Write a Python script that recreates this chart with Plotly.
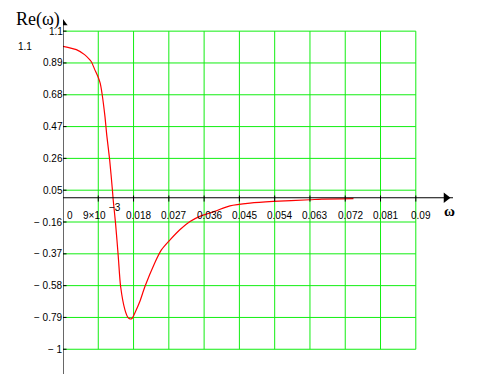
import plotly.graph_objects as go

# Curve values
omega = [0, 0.0034, 0.0055, 0.0068, 0.0073, 0.0081, 0.0089, 0.0095, 0.0100, 0.0107,
         0.0112, 0.0119, 0.0126, 0.0128, 0.0134, 0.0141, 0.0147, 0.0158, 0.0166, 0.0171,
         0.0176, 0.0183, 0.0196, 0.0209, 0.0234, 0.0251, 0.0273, 0.0298, 0.0324, 0.0349,
         0.0387, 0.0426, 0.0477, 0.0536, 0.0630, 0.0660, 0.0741]
re_omega = [1.0, 0.978, 0.945, 0.912, 0.895, 0.846, 0.80, 0.755, 0.68, 0.537,
            0.405, 0.251, 0.053, -0.013, -0.167, -0.388, -0.586, -0.74, -0.791, -0.80,
            -0.797, -0.762, -0.685, -0.586, -0.43, -0.344, -0.278, -0.211, -0.157, -0.123,
            -0.09, -0.053, -0.035, -0.024, -0.013, -0.009, -0.006]

x_ticks = [0, 0.009, 0.018, 0.027, 0.036, 0.045, 0.054, 0.063, 0.072, 0.081, 0.09]
x_labels = ["0", "9×10", "0.018", "0.027", "0.036", "0.045", "0.054",
            "0.063", "0.072", "0.081", "0.09"]
x_exponents = ["", "−3", "", "", "", "", "", "", "", "", ""]
y_ticks = [1.1, 0.89, 0.68, 0.47, 0.26, 0.05, -0.16, -0.37, -0.58, -0.79, -1]
y_labels = ["1.1", "0.89", "0.68", "0.47", "0.26", "0.05", "− 0.16", "− 0.37",
            "− 0.58", "− 0.79", "− 1"]

x_min, x_max = 0, 0.1
y_min, y_max = -1.17, 1.2
grid_color = "#11ee11"
font_sans = "Liberation Sans, Arial, sans-serif"
font_serif = "Liberation Serif, Times New Roman, serif"

fig = go.Figure()

shapes = []
gx0, gx1 = x_ticks[0], x_ticks[-1]
gy0, gy1 = min(y_ticks), max(y_ticks)
for xt in x_ticks[1:]:
    shapes.append(dict(type="line", x0=xt, x1=xt, y0=gy0, y1=gy1, xref="x", yref="y",
                       line=dict(color=grid_color, width=1), layer="below"))
for yt in y_ticks:
    shapes.append(dict(type="line", x0=gx0, x1=gx1, y0=yt, y1=yt, xref="x", yref="y",
                       line=dict(color=grid_color, width=1), layer="below"))
# axes
shapes.append(dict(type="line", x0=0, x1=0.0995, y0=0, y1=0, xref="x", yref="y",
                   line=dict(color="black", width=1.2)))
shapes.append(dict(type="line", x0=0, x1=0, y0=-1.163, y1=1.175, xref="x", yref="y",
                   line=dict(color="black", width=1.2)))
# tick marks
for xt in x_ticks[1:]:
    shapes.append(dict(type="line", x0=xt, x1=xt, y0=-0.025, y1=0.015, xref="x", yref="y",
                       line=dict(color="black", width=1)))
for yt in y_ticks:
    shapes.append(dict(type="line", x0=0, x1=0.0009, y0=yt, y1=yt, xref="x", yref="y",
                       line=dict(color="black", width=1)))

fig.add_trace(go.Scatter(x=omega, y=re_omega, mode="lines",
                         line=dict(color="red", width=1.2, shape="spline", smoothing=0.7),
                         hoverinfo="skip"))
# arrow heads
fig.add_trace(go.Scatter(x=[0.0977], y=[0], mode="markers",
                         marker=dict(symbol="triangle-right", size=9, color="black"),
                         hoverinfo="skip"))
fig.add_trace(go.Scatter(x=[0], y=[1.152], mode="markers",
                         marker=dict(symbol="triangle-up", size=8, color="black"),
                         hoverinfo="skip"))

annotations = []
for xt, lab, ex in zip(x_ticks, x_labels, x_exponents):
    if ex:
        annotations.append(dict(x=xt, y=0, xref="x", yref="y", text=lab, showarrow=False,
                                xanchor="right", yanchor="middle", yshift=-18, xshift=10,
                                font=dict(family=font_sans, size=10, color="black")))
        annotations.append(dict(x=xt, y=0, xref="x", yref="y", text=ex, showarrow=False,
                                xanchor="left", yanchor="middle", yshift=-10, xshift=9,
                                font=dict(family=font_sans, size=10, color="black")))
    else:
        annotations.append(dict(x=xt, y=0, xref="x", yref="y", text=lab, showarrow=False,
                                xanchor="center", yanchor="middle", yshift=-18,
                                xshift=7 if xt == 0 else 5,
                                font=dict(family=font_sans, size=10, color="black")))
for yt, lab in zip(y_ticks, y_labels):
    annotations.append(dict(x=0, y=yt, xref="x", yref="y", text=lab, showarrow=False,
                            xanchor="right", yanchor="middle", xshift=2,
                            font=dict(family=font_sans, size=10, color="black")))
annotations.append(dict(x=0, y=1.0, xref="x", yref="y", text="1.1", showarrow=False,
                        xanchor="center", yanchor="middle", xshift=-38,
                        font=dict(family=font_sans, size=10, color="black")))
annotations.append(dict(x=0, y=y_max, xref="x", yref="y", text="Re(ω)", showarrow=False,
                        xanchor="center", yanchor="middle", xshift=-25, yshift=-3,
                        font=dict(family=font_serif, size=18, color="black")))
annotations.append(dict(x=0.0987, y=0, xref="x", yref="y", text="<b>ω</b>", showarrow=False,
                        xanchor="center", yanchor="middle", yshift=-13,
                        font=dict(family=font_serif, size=15, color="black")))

# page body has an 8px margin, so the figure is sized/offset to compensate
fig.update_layout(
    width=479, height=381,
    margin=dict(l=55, r=32, t=8, b=14),
    paper_bgcolor="white", plot_bgcolor="white",
    showlegend=False,
    shapes=shapes, annotations=annotations,
    xaxis=dict(range=[x_min, x_max], visible=False, fixedrange=True),
    yaxis=dict(range=[y_min, y_max], visible=False, fixedrange=True),
)

fig.write_html("out.html")
